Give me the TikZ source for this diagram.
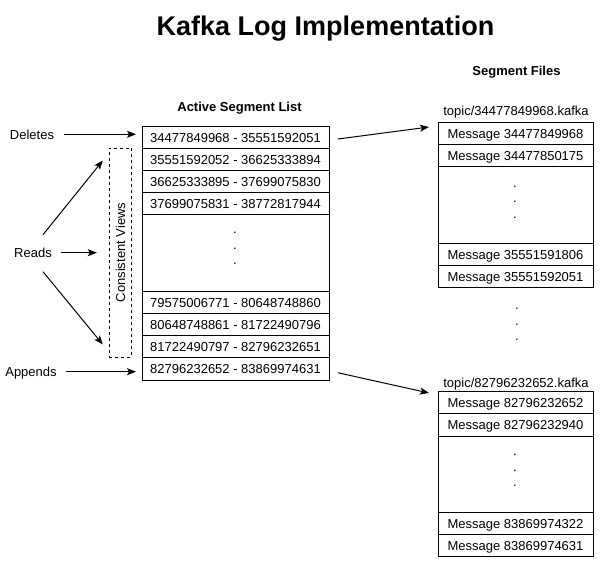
\documentclass[tikz,border=0pt]{standalone}
\usepackage{fontspec}
\setmainfont{Liberation Sans}
\usetikzlibrary{arrows.meta,calc}
\begin{document}
\begin{tikzpicture}[x=1pt,y=-1pt,
  every node/.style={font=\fontsize{13}{15.6}\selectfont, text height=11.7pt, text depth=1.3pt},
  cell/.style={draw, line width=1pt, inner sep=0pt, outer sep=0pt, anchor=north west},
  lrow/.style={cell, minimum width=187pt},
  frow/.style={cell, minimum width=155pt},
  hdr/.style={anchor=base, font=\fontsize{13}{15.6}\selectfont\bfseries},
  dotlbl/.style={anchor=base, inner sep=0pt},
  arr/.style={line width=1pt, -{Stealth[length=9pt,width=7pt,inset=2pt]}}
]
\fill[white] (0,0) rectangle (604,563);
\useasboundingbox (0,0) rectangle (604,563);

% title and headers
\node[anchor=base, font=\fontsize{27}{32}\selectfont\bfseries] (title) at (325.5,35) {Kafka Log Implementation};
\node[hdr] (hlist) at (239.5,111) {Active Segment List};
\node[hdr] (hfiles) at (516.5,75) {Segment Files};

% active segment list
\node[lrow, minimum height=22pt] (l1) at (142,126) {34477849968 - 35551592051};
\node[lrow, minimum height=22pt] (l2) at (142,148) {35551592052 - 36625333894};
\node[lrow, minimum height=22pt] (l3) at (142,170) {36625333895 - 37699075830};
\node[lrow, minimum height=22pt] (l4) at (142,192) {37699075831 - 38772817944};
\node[lrow, minimum height=77pt] (l5) at (142,214) {};
\node[lrow, minimum height=22pt] (l6) at (142,291) {79575006771 - 80648748860};
\node[lrow, minimum height=22.5pt] (l7) at (142,313) {80648748861 - 81722490796};
\node[lrow, minimum height=22pt] (l8) at (142,335.5) {81722490797 - 82796232651};
\node[lrow, minimum height=22.5pt] (l9) at (142,357.5) {82796232652 - 83869974631};
\node[dotlbl] (ld1) at (235,233.7) {.};
\node[dotlbl] (ld2) at (235,249.2) {.};
\node[dotlbl] (ld3) at (235,264.7) {.};

% consistent views
\node[draw, dash pattern=on 3pt off 3pt, line width=1pt, minimum width=22.4pt, minimum height=209pt, inner sep=0pt] (cv) at (120.5,252.5) {};
\node[rotate=90] (cvt) at ($(cv.center)+(-0.7,0)$) {Consistent Views};

% left labels
\node (del) at (32,134.3) {Deletes};
\node (reads) at (33,252.7) {Reads};
\node (app) at (31,371.7) {Appends};

\draw[arr] ($(del.east)+(6,0)$) -- ($(l1.west |- del.east)+(-6,0)$);
\draw[arr] ($(app.east)+(6,0)$) -- ($(l9.west |- app.east)+(-6,0)$);
\draw[arr] ($(reads.east)+(6,0)$) -- ($(cv.west |- reads.east)+(-12,0)$);
\draw[arr] ($(reads.center)+(10,-18)$) -- ($(cv.north west)+(-6,13)$);
\draw[arr] ($(reads.center)+(10,19)$) -- ($(cv.south west)+(-6,-13)$);

% segment file 1
\node[anchor=base] (t1) at (516,115) {topic/34477849968.kafka};
\node[frow, minimum height=22pt] (f1a) at (438,122) {Message 34477849968};
\node[frow, minimum height=22pt] (f1b) at (438,144) {Message 34477850175};
\node[frow, minimum height=77pt] (f1c) at (438,166) {};
\node[frow, minimum height=22pt] (f1d) at (438,243) {Message 35551591806};
\node[frow, minimum height=22pt] (f1e) at (438,265) {Message 35551592051};
\node[dotlbl] (fd1) at (515,187.2) {.};
\node[dotlbl] (fd2) at (515,202.7) {.};
\node[dotlbl] (fd3) at (515,218.2) {.};

% between files
\node[dotlbl] (md1) at (517,309.7) {.};
\node[dotlbl] (md2) at (517,325.2) {.};
\node[dotlbl] (md3) at (517,340.7) {.};

% segment file 2
\node[anchor=base] (t2) at (516,387) {topic/82796232652.kafka};
\node[frow, minimum height=22pt] (f2a) at (438,391) {Message 82796232652};
\node[frow, minimum height=23pt] (f2b) at (438,413) {Message 82796232940};
\node[frow, minimum height=76pt] (f2c) at (438,436) {};
\node[frow, minimum height=22pt] (f2d) at (438,512) {Message 83869974322};
\node[frow, minimum height=22pt] (f2e) at (438,534) {Message 83869974631};
\node[dotlbl] (gd1) at (515,455.7) {.};
\node[dotlbl] (gd2) at (515,471.2) {.};
\node[dotlbl] (gd3) at (515,486.7) {.};

% list to files
\draw[arr] ($(l1.east)+(9,2)$) -- ($(f1a.north west)+(-9,5)$);
\draw[arr] ($(l9.east)+(9,4)$) -- ($(f2a.north west)+(-9,2)$);
\end{tikzpicture}
\end{document}
